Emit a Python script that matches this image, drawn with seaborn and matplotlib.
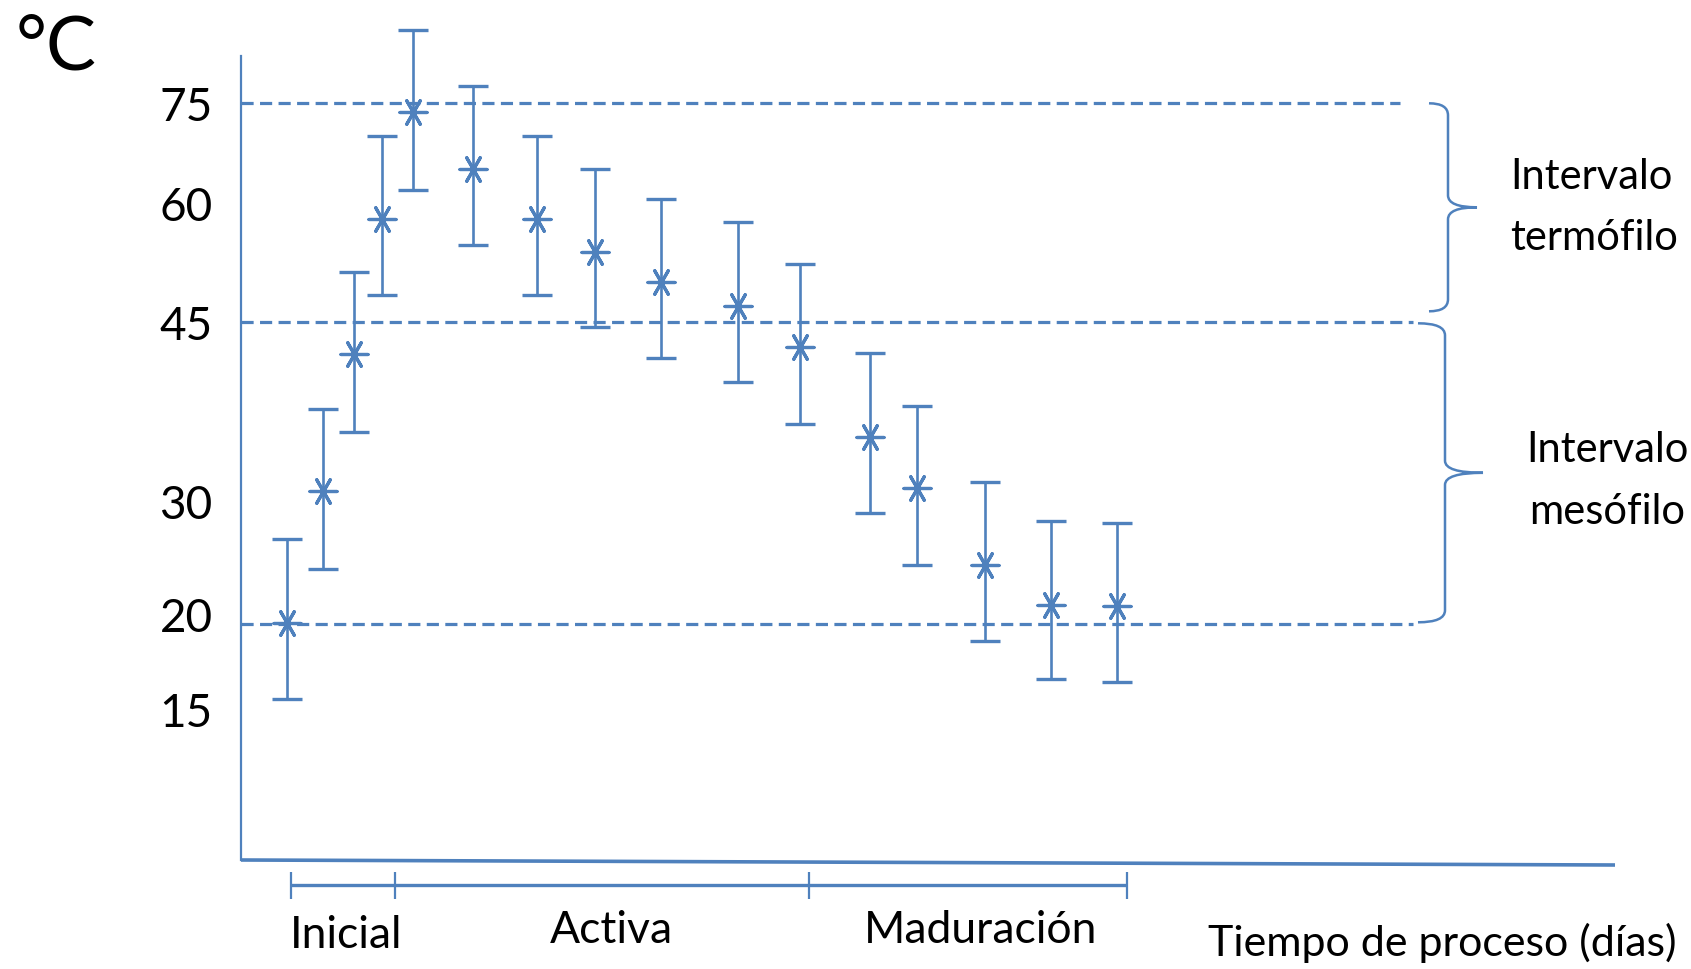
import numpy as np
import matplotlib
matplotlib.use("Agg")
import matplotlib.pyplot as plt
import matplotlib.transforms as mtransforms
from matplotlib.path import Path
from matplotlib.patches import PathPatch
import seaborn as sns

# ---- data -------------------------------------------------------------
dias = [4.6, 8.2, 11.3, 14.1, 17.2, 23.2, 29.6, 35.4, 42.0, 49.7, 55.9,
        62.9, 67.6, 74.4, 81.0, 87.6]
temp_media = [20.1, 30.8, 42.3, 58.0, 73.7, 65.1, 58.0, 53.9, 50.1, 47.0,
              42.9, 35.4, 31.1, 24.8, 21.6, 21.5]
temp_max = [26.9, 37.7, 51.3, 70.1, 86.0, 77.6, 70.1, 65.1, 60.6, 57.6,
            52.3, 42.4, 38.0, 31.6, 28.4, 28.2]
temp_min = [15.6, 24.5, 35.8, 48.4, 62.0, 54.7, 48.4, 44.6, 42.0, 40.0,
            36.5, 29.0, 24.8, 19.0, 16.8, 16.6]

fases = ["Inicial", "Activa", "Maduración"]
limites_fase = [5.0, 15.4, 56.8, 88.6]
centros_fase = [10.5, 37.0, 74.0]

marcas_y = [15, 20, 30, 45, 60, 75]
umbrales = [75, 45, 20]
intervalos = [("Intervalo", "termófilo", 75, 45),
              ("Intervalo", "mesófilo", 45, 20)]

# ---- style ------------------------------------------------------------
AZUL = "#4F81BD"
sns.set_theme(style="white")
plt.rcParams["font.family"] = ["Lato", "DejaVu Sans"]

fig = plt.figure(figsize=(16.91, 9.70), dpi=100)
AX_W, AX_H = 1374.0, 804.0
ax = fig.add_axes([241 / 1691, 109 / 970, AX_W / 1691, AX_H / 970])

# Non-uniform temperature axis: piecewise-linear spacing between the marks
escala_t = np.array([15.0, 20.0, 30.0, 45.0, 60.0, 75.0])
escala_h = np.array([151.0, 235.7, 359.0, 537.7, 656.7, 756.7])


def _tramos(v, xs, ys):
    v = np.asarray(v, dtype=float)
    out = np.interp(v, xs, ys)
    lo = (ys[1] - ys[0]) / (xs[1] - xs[0])
    hi = (ys[-1] - ys[-2]) / (xs[-1] - xs[-2])
    out = np.where(v < xs[0], ys[0] + (v - xs[0]) * lo, out)
    out = np.where(v > xs[-1], ys[-1] + (v - xs[-1]) * hi, out)
    return out


def adelante(v):
    return _tramos(v, escala_t, escala_h)


def inversa(h):
    return _tramos(h, escala_h, escala_t)


ax.set_yscale("function", functions=(adelante, inversa))
ax.set_ylim(float(inversa(0.0)), float(inversa(AX_H)))
ax.set_xlim(0, 137.4)

# ---- threshold lines --------------------------------------------------
fin_umbral = {75: 115.9, 45: 117.2, 20: 117.2}
for u in umbrales:
    ax.plot([0, fin_umbral[u]], [u, u], color=AZUL, lw=2.3,
            linestyle=(0, (3.8, 2.0)), clip_on=False, zorder=1)

# ---- error bars and markers ------------------------------------------
media = np.array(temp_media)
err = [media - np.array(temp_min), np.array(temp_max) - media]
eb = ax.errorbar(dias, temp_media, yerr=err, fmt="none", ecolor=AZUL,
                 elinewidth=1.9, capsize=10.8, capthick=2.4, zorder=2)
for art in list(eb.lines[1]) + list(eb.lines[2]):
    art.set_clip_on(False)

sns.scatterplot(x=dias, y=temp_media, marker=(6, 2, 90), s=380,
                color=AZUL, edgecolor=AZUL, linewidth=2.3, ax=ax,
                zorder=3, clip_on=False)

# ---- axes lines and ticks ---------------------------------------------
for lado in ["top", "right", "bottom"]:
    ax.spines[lado].set_visible(False)
ax.spines["left"].set_color(AZUL)
ax.spines["left"].set_linewidth(1.6)
ax.plot([0, 1], [0, -5 / AX_H], transform=ax.transAxes, color=AZUL,
        lw=2.6, clip_on=False, solid_capstyle="butt")

ax.set_xticks([])
ax.set_yticks(marcas_y)
ax.set_yticklabels([str(m) for m in marcas_y])
ax.tick_params(axis="y", direction="inout", length=20, width=1.6,
               color=AZUL, pad=10.5, labelsize=33, labelcolor="black")
ax.set_xlabel("")
ax.set_ylabel("")

tick20 = ax.yaxis.get_major_ticks()[1]
tick20.tick1line.set_visible(False)
tick20.label1.set_transform(tick20.label1.get_transform() +
                            mtransforms.ScaledTranslation(0, 0.10, fig.dpi_scale_trans))

# ---- process phases under the time axis -------------------------------
tx = ax.get_xaxis_transform()
y_fase = -25 / AX_H
ax.plot([limites_fase[0], limites_fase[-1]], [y_fase, y_fase], transform=tx,
        color=AZUL, lw=2.4, clip_on=False, solid_capstyle="butt")
ax.vlines(limites_fase, -12 / AX_H, -39 / AX_H, transform=tx, color=AZUL,
          lw=1.6, clip_on=False)
for i, nombre in enumerate(fases):
    base = -87 / AX_H if i == 0 else -82 / AX_H
    ax.text(centros_fase[i], base, nombre, transform=tx, ha="center",
            va="baseline", fontsize=32, color="black")
ax.text(1201 / AX_W, -95 / AX_H, "Tiempo de proceso (días)",
        transform=ax.transAxes, ha="center", va="baseline", fontsize=31,
        color="black")

fig.text(16 / 1691, 1 - 70 / 970, "°C", ha="left", va="baseline",
         fontsize=54, color="black")


# ---- braces for the temperature ranges --------------------------------
def llave(h_sup, h_inf, x_linea, prof_extremo, prof_punta, r=12.0):
    h_mid = (h_sup + h_inf) / 2
    xe = x_linea - prof_extremo
    xt = x_linea + prof_punta
    verts = [
        (xe, h_sup), (x_linea, h_sup), (x_linea, h_sup - r),
        (x_linea, h_mid + r),
        (x_linea, h_mid), (xt, h_mid),
        (x_linea, h_mid), (x_linea, h_mid - r),
        (x_linea, h_inf + r),
        (x_linea, h_inf), (xe, h_inf),
    ]
    codes = [Path.MOVETO, Path.CURVE3, Path.CURVE3, Path.LINETO,
             Path.CURVE3, Path.CURVE3, Path.CURVE3, Path.CURVE3,
             Path.LINETO, Path.CURVE3, Path.CURVE3]
    verts = [(x / AX_W, y / AX_H) for x, y in verts]
    ax.add_patch(PathPatch(Path(verts, codes), transform=ax.transAxes,
                           fill=False, edgecolor=AZUL, lw=1.8, clip_on=False))


sup1, inf1 = intervalos[0][2], intervalos[0][3]
sup2, inf2 = intervalos[1][2], intervalos[1][3]
llave(float(adelante(sup1)), float(adelante(inf1)) + 11, 1207, 19, 29)
llave(float(adelante(sup2)) - 1, float(adelante(inf2)) + 2, 1204, 27, 38)

ax.text(1269 / AX_W, 672 / AX_H, intervalos[0][0], transform=ax.transAxes,
        ha="left", va="baseline", fontsize=30, color="black")
ax.text(1269 / AX_W, 611 / AX_H, intervalos[0][1], transform=ax.transAxes,
        ha="left", va="baseline", fontsize=30, color="black")
ax.text(1366 / AX_W, 399 / AX_H, intervalos[1][0], transform=ax.transAxes,
        ha="center", va="baseline", fontsize=30, color="black")
ax.text(1366 / AX_W, 337 / AX_H, intervalos[1][1], transform=ax.transAxes,
        ha="center", va="baseline", fontsize=30, color="black")

fig.savefig("out.png", dpi=100)
